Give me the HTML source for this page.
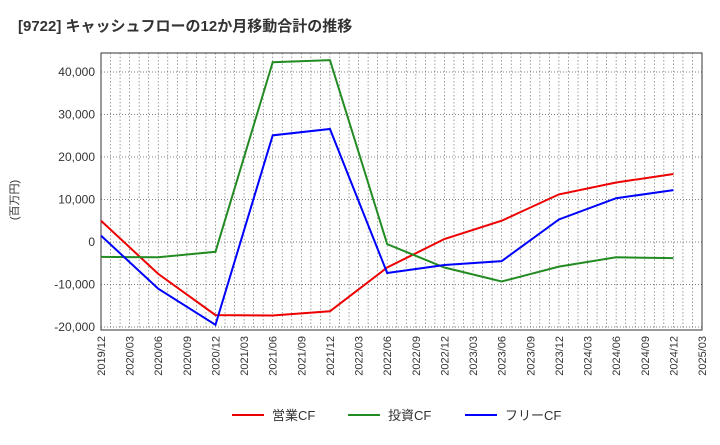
<!DOCTYPE html>
<html><head><meta charset="utf-8"><style>
body{margin:0;background:#fff;font-family:"Liberation Sans","Noto Sans CJK JP",sans-serif}
</style></head><body>
<svg id="c" width="720" height="440" xmlns="http://www.w3.org/2000/svg">
<text x="18" y="31" font-size="15" font-weight="bold" fill="#333">[9722]  キャッシュフローの12か月移動合計の推移</text>
<text transform="translate(18,200) rotate(-90)" font-size="11" fill="#333" text-anchor="middle">(百万円)</text>
<g id="grid"></g><g id="axes"></g><g id="series"></g>
<g>
<line x1="232" y1="415" x2="264" y2="415" stroke="#e00" stroke-width="2"/>
<text x="272" y="420" font-size="13" fill="#333">営業CF</text>
<line x1="348" y1="415" x2="380" y2="415" stroke="#228b22" stroke-width="2"/>
<text x="388" y="420" font-size="13" fill="#333">投資CF</text>
<line x1="465" y1="415" x2="497" y2="415" stroke="#00f" stroke-width="2"/>
<text x="505" y="420" font-size="13" fill="#333">フリーCF</text>
</g>
</svg>
<script>
const tickLabels=["2019/12","2020/03","2020/06","2020/09","2020/12","2021/03","2021/06","2021/09","2021/12","2022/03","2022/06","2022/09","2022/12","2023/03","2023/06","2023/09","2023/12","2024/03","2024/06","2024/09","2024/12","2025/03"];
const yTicks=[-20000,-10000,0,10000,20000,30000,40000];
const pointIdx=[0,2,4,6,8,10,12,14,16,18,20];
const operatingCF=[5000,-7500,-17200,-17300,-16300,-6000,700,5000,11200,14000,16000];
const investingCF=[-3500,-3600,-2300,42300,42800,-500,-6000,-9300,-5800,-3600,-3800];
const freeCF=[1500,-11000,-19500,25100,26600,-7300,-5400,-4500,5300,10300,12200];
const L=101,R=702,T=53,B=330;
const x=i=>L+i*(R-L)/(tickLabels.length-1);
const y=v=>242-v*42.5/10000;
const NS="http://www.w3.org/2000/svg";
function mk(t,a,p){const e=document.createElementNS(NS,t);for(const k in a)e.setAttribute(k,a[k]);p.appendChild(e);return e;}
const g=document.getElementById('grid'),ax=document.getElementById('axes'),s=document.getElementById('series');
for(let m=0;m<=(tickLabels.length-1)*3;m++){
 const l=mk('line',{x1:x(m/3),x2:x(m/3),y1:T,y2:B,stroke:'#777','stroke-width':0.7,'stroke-dasharray':'1.5,2'},g);
 
 
}
tickLabels.forEach((t,i)=>{
 const tx=mk('text',{transform:`translate(${x(i)+4},${B+6}) rotate(-90)`,'font-size':11,fill:'#333','text-anchor':'end'},ax);
 tx.textContent=t;
 
 
});
yTicks.forEach(v=>{
 const l=mk('line',{x1:L,x2:R,y1:y(v),y2:y(v),stroke:'#555','stroke-width':0.8,'stroke-dasharray':'1,2'},g);
 
 
 const tx=mk('text',{x:L-6,y:y(v)+4,'font-size':12,fill:'#333','text-anchor':'end'},ax);
 tx.textContent=v.toLocaleString('en-US');
 
 
});
const fr=mk('rect',{x:L,y:T,width:R-L,height:B-T,fill:'none',stroke:'#333','stroke-width':1},ax);


[[operatingCF,'#e00','operating-cf-line'],[investingCF,'#228b22','investing-cf-line'],[freeCF,'#00f','free-cf-line']].forEach(([d,c,n])=>{
 const p=mk('polyline',{points:d.map((v,k)=>x(pointIdx[k])+','+y(v)).join(' '),fill:'none',stroke:c,'stroke-width':2},s);
 
 
});
</script>
</body></html>
